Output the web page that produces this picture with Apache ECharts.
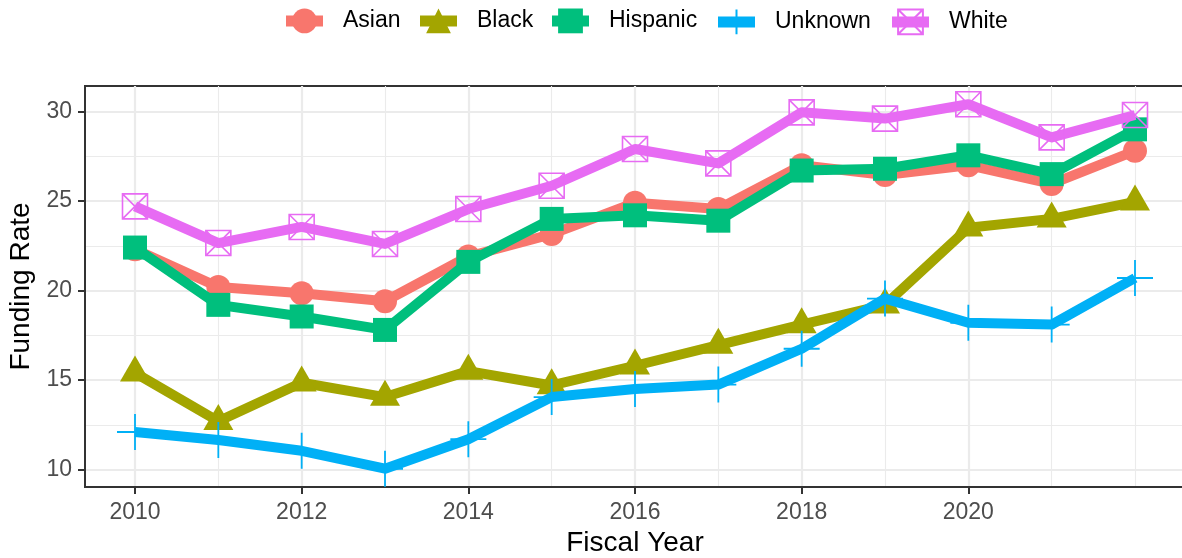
<!DOCTYPE html>
<html>
<head>
<meta charset="utf-8">
<script src="https://cdn.jsdelivr.net/npm/echarts@6/dist/echarts.min.js"></script>
<style>
html,body{margin:0;padding:0;background:#fff;}
#chart{width:1182px;height:558px;}
</style>
</head>
<body>
<div id="chart"></div>
<script>
var years = [2010, 2011, 2012, 2013, 2014, 2015, 2016, 2017, 2018, 2019, 2020, 2021, 2022];
var groupNames = ['Asian', 'Black', 'Hispanic', 'Unknown', 'White'];
var asian    = [22.3, 20.2, 19.85, 19.4, 21.9, 23.15, 24.9, 24.55, 27.0, 26.45, 27.0, 25.95, 27.8];
var black    = [15.4, 12.7, 14.85, 14.05, 15.5, 14.7, 15.8, 16.95, 18.1, 19.2, 23.5, 24.0, 24.95];
var hispanic = [22.4, 19.2, 18.55, 17.8, 21.6, 24.0, 24.2, 23.9, 26.7, 26.8, 27.55, 26.5, 29.0];
var unknown  = [12.1, 11.65, 11.05, 10.05, 11.7, 14.05, 14.5, 14.75, 16.75, 19.55, 18.2, 18.1, 20.7];
var white    = [24.7, 22.65, 23.55, 22.6, 24.55, 25.85, 27.9, 27.1, 29.95, 29.6, 30.4, 28.55, 29.8];
var xMajorTicks = [2010, 2012, 2014, 2016, 2018, 2020];
var xMinorTicks = [2011, 2013, 2015, 2017, 2019, 2021, 2022];
var yMajorTicks = [10, 15, 20, 25, 30];
var yMinorTicks = [12.5, 17.5, 22.5, 27.5];

var colors = ['#F8766D', '#A3A500', '#00BF7D', '#00B0F6', '#E76BF3'];
var values = [asian, black, hispanic, unknown, white];
var legendLefts = [280.5, 414.5, 546.5, 712.5, 886.5];

function pairs(v) { return years.map(function (y, i) { return [y, v[i]]; }); }

var symbolDefs = [
  { symbol: 'circle', size: 24, offset: [0, 0], item: { color: colors[0] } },
  { symbol: 'triangle', size: [30, 26], offset: [0, -4.3], item: { color: colors[1] } },
  { symbol: 'rect', size: 24, offset: [0, 0], item: { color: colors[2] } },
  { symbol: 'path://M5,0L5,10M0,5L10,5', size: 36, offset: [0, 0],
    item: { color: 'rgba(0,0,0,0)', borderColor: colors[3], borderWidth: 1.8 } },
  { symbol: 'path://M0,0L10,0L10,10L0,10ZM0,0L10,10M10,0L0,10', size: 25, offset: [0, 0],
    item: { color: 'rgba(0,0,0,0)', borderColor: colors[4], borderWidth: 1.6 } }
];

var series = groupNames.map(function (name, i) {
  var s = symbolDefs[i];
  return {
    name: name,
    type: 'line',
    xAxisIndex: 0,
    yAxisIndex: 0,
    data: pairs(values[i]),
    symbol: s.symbol,
    symbolSize: s.size,
    symbolOffset: s.offset,
    showSymbol: true,
    showAllSymbol: true,
    animation: false,
    lineStyle: { color: colors[i], width: 10, join: 'round', cap: 'butt' },
    itemStyle: s.item,
    emphasis: { disabled: true },
    z: 2 + i
  };
});

var FONT = 'Liberation Sans, Arial, Helvetica, sans-serif';
var legends = groupNames.map(function (name, i) {
  return {
    data: [name],
    left: legendLefts[i],
    top: 8.5,
    padding: 0,
    orient: 'horizontal',
    itemWidth: 37,
    itemHeight: 31,
    lineStyle: { width: 11 },
    textStyle: { fontFamily: FONT, fontSize: 23, color: '#000', padding: [0, 0, 0, 15] },
    selectedMode: false
  };
});

var chart = echarts.init(document.getElementById('chart'), null, { renderer: 'canvas' });
chart.setOption({
  backgroundColor: '#ffffff',
  animation: false,
  color: colors,
  legend: legends,
  grid: {
    left: 85, right: -3, top: 86, bottom: 71,
    show: true, borderColor: '#333333', borderWidth: 2, backgroundColor: '#ffffff',
    containLabel: false, outerBoundsMode: 'none'
  },
  xAxis: [
    {
      type: 'value', min: 2009.4, max: 2022.6, position: 'bottom',
      name: 'Fiscal Year', nameLocation: 'middle', nameGap: 40,
      nameTextStyle: { fontFamily: FONT, fontSize: 28, color: '#000' },
      axisLine: { show: true, lineStyle: { color: '#333333', width: 2 } },
      axisTick: { show: true, length: 7, customValues: xMajorTicks, lineStyle: { color: '#333333', width: 2 } },
      axisLabel: { show: true, customValues: xMajorTicks, margin: 14, fontFamily: FONT, fontSize: 23, color: '#4D4D4D', formatter: function (v) { return String(v); } },
      splitLine: { show: true, lineStyle: { color: '#EBEBEB', width: 2.2 } },
      z: 1
    },
    {
      type: 'value', min: 2009.4, max: 2022.6, position: 'bottom',
      axisLine: { show: false },
      axisTick: { show: false, customValues: xMinorTicks },
      axisLabel: { show: false, customValues: xMinorTicks },
      splitLine: { show: true, lineStyle: { color: '#EBEBEB', width: 1.1 } },
      z: 0
    }
  ],
  yAxis: [
    {
      type: 'value', min: 9.03, max: 31.42, position: 'left',
      name: 'Funding Rate', nameLocation: 'middle', nameGap: 39,
      nameTextStyle: { fontFamily: FONT, fontSize: 28, color: '#000' },
      axisLine: { show: true, lineStyle: { color: '#333333', width: 2 } },
      axisTick: { show: true, length: 7, customValues: yMajorTicks, lineStyle: { color: '#333333', width: 2 } },
      axisLabel: { show: true, customValues: yMajorTicks, margin: 13, fontFamily: FONT, fontSize: 23, color: '#4D4D4D' },
      splitLine: { show: true, lineStyle: { color: '#EBEBEB', width: 2.2 } },
      z: 1
    },
    {
      type: 'value', min: 9.03, max: 31.42, position: 'left', offset: 0,
      axisLine: { show: false },
      axisTick: { show: false, customValues: yMinorTicks },
      axisLabel: { show: false, customValues: yMinorTicks },
      splitLine: { show: true, lineStyle: { color: '#EBEBEB', width: 1.1 } },
      z: 0
    }
  ],
  series: series
});
</script>
</body>
</html>
